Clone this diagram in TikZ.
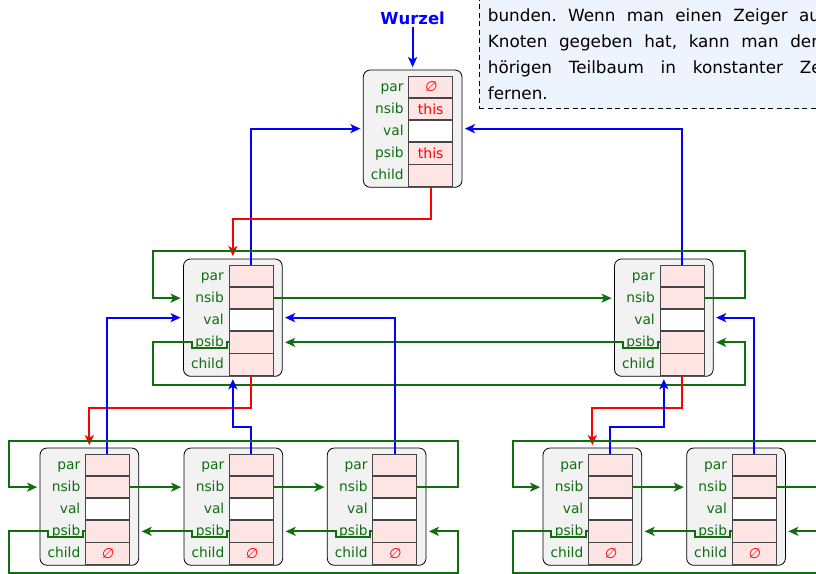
\documentclass[tikz,border=0pt]{standalone}
\usepackage{fontspec}
\setmainfont{DejaVu Sans}
\newfontfamily\emptysymfont[FakeSlant=0.15]{DejaVu Sans}
\usetikzlibrary{arrows.meta,calc}
\definecolor{lgreen}{RGB}{16,110,16}
\definecolor{cellpink}{RGB}{255,228,228}
\definecolor{boxgray}{RGB}{242,242,242}
\definecolor{notebg}{RGB}{237,244,253}
\definecolor{cellline}{RGB}{70,70,70}
\newcommand\notefont{\fontsize{16.8}{20}\selectfont}
\newcommand\nilsym{{\emptysymfont ∅}}
\tikzset{
  x=1pt, y=-1pt,
  gbox/.style={draw=black, line width=0.8pt, fill=boxgray, rounded corners=7pt,
    minimum width=98.7pt, minimum height=117.3pt, inner sep=0pt},
  cellp/.style={draw=cellline, line width=0.9pt, fill=cellpink, minimum width=44pt,
    minimum height=21.2pt, inner sep=0pt, text=red, font=\fontsize{14}{16}\selectfont},
  cellw/.style={cellp, fill=white},
  lab/.style={text=lgreen, font=\fontsize{13.8}{16}\selectfont, inner sep=0pt, anchor=base east},
  con/.style={line width=2pt, -{Stealth[length=10pt,width=9pt,inset=2.5pt]}, shorten >=2.5pt},
  bl/.style={con, blue}, rd/.style={con, red}, gr/.style={con, lgreen},
  notebox/.style={draw=black, line width=0.8pt, dash pattern=on 5pt off 3.5pt, fill=notebg,
    minimum width=360pt, minimum height=130pt, inner sep=0pt},
  notetxt/.style={font=\notefont, inner sep=0pt, anchor=base west},
  wlabel/.style={text=blue, font=\fontsize{16.5}{18}\selectfont\bfseries, inner sep=3pt, anchor=base},
}
\newcommand\fheap[7]{%
  \node[gbox] (#1) at (#2+4.35,#3+52.65) {};
  \node[cellp, anchor=north west] (#1-par) at (#2,#3) {#4};
  \node[cellp, anchor=north] (#1-nsib) at (#1-par.south) {#5};
  \node[cellw, anchor=north] (#1-val) at (#1-nsib.south) {};
  \node[cellp, anchor=north] (#1-psib) at (#1-val.south) {#6};
  \node[cellp, anchor=north] (#1-child) at (#1-psib.south) {#7};
  \node[lab] (#1-lpar) at ($(#1-par.west)+(-4.5,4.5)$) {par};
  \node[lab] (#1-lnsib) at ($(#1-nsib.west)+(-4.5,4.5)$) {nsib};
  \node[lab] (#1-lval) at ($(#1-val.west)+(-4.5,4.5)$) {val};
  \node[lab] (#1-lpsib) at ($(#1-psib.west)+(-4.5,4.5)$) {psib};
  \node[lab] (#1-lchild) at ($(#1-child.west)+(-4.5,4.5)$) {child};
}
\frenchspacing
\begin{document}
\begin{tikzpicture}
\useasboundingbox (0,0) rectangle (816,573);
\clip (0,0) rectangle (816,573);
% note box
\node[notebox, anchor=south west] (note) at (479,109) {};
\node[notetxt] (t1) at (487.7,21.7) {\makebox[338pt][s]{bunden. Wenn man einen Zeiger auf}};
\node[notetxt] (t2) at (487.7,47.5) {\makebox[334pt][s]{Knoten gegeben hat, kann man den}};
\node[notetxt] (t3) at (487.7,73.3) {\makebox[345pt][s]{hörigen Teilbaum in konstanter Zeit}};
\node[notetxt] (t4) at (487.7,99.1) {fernen.};
\node[wlabel] (wurzel) at (412.6,24) {Wurzel};
% heap nodes
\fheap{r}{408.3}{76}{\nilsym}{this}{this}{}
\fheap{m1}{228.5}{265}{}{}{}{}
\fheap{m2}{659.5}{265}{}{}{}{}
\fheap{b1}{85}{454}{}{}{}{\nilsym}
\fheap{b2}{229}{454}{}{}{}{\nilsym}
\fheap{b3}{372.3}{454}{}{}{}{\nilsym}
\fheap{b4}{588}{454}{}{}{}{\nilsym}
\fheap{b5}{731.7}{454}{}{}{}{\nilsym}
% root level
\draw[bl] (wurzel.south) -- (wurzel.south |- r.north);
\draw[bl] (m1-par.north) |- (r.west);
\draw[bl] (m2-par.north) |- (r.east);
\draw[rd] (r-child.south) -- ++(0,32) -| (m1.north);
% middle level
\draw[gr] (m1-nsib.east) -- (m1-nsib.east -| m2.west);
\draw[gr] (m2-nsib.east) -- ++(41,0) |- (153.3,250.7) |- (m1.west |- m1-nsib.west);
\draw[gr] (m2-psib.west) -- ++(-2,0) -- ++(0,5.5) -- ++(-34.6,0) -- ++(0,-5.5) -- (m1.east |- m2-psib.west);
\draw[gr] (m1-psib.west) -- ++(-2,0) -- ++(0,5.5) -- ++(-34.6,0) -- ++(0,-5.5) -| (153.3,384.7) -| ($(m2-psib.east)+(41,0)$) -- (m2.east |- m1-psib.west);
% bottom level: parents and children
\draw[rd] (m1-child.south) -- ++(0,32.3) -| (b1.north);
\draw[rd] (m2-child.south) -- ++(0,32) -| (b4.north);
\draw[bl] (b1-par.north) |- (m1.west);
\draw[bl] (b2-par.north) -- ++(0,-27.3) -| (m1.south);
\draw[bl] (b3-par.north) |- (m1.east);
\draw[bl] (b4-par.north) -- ++(0,-27.3) -| (m2.south);
\draw[bl] (b5-par.north) |- (m2.east);
% bottom level: sibling lists
\draw[gr] (b1-nsib.east) -- (b1-nsib.east -| b2.west);
\draw[gr] (b2-nsib.east) -- (b2-nsib.east -| b3.west);
\draw[gr] (b3-nsib.east) -- ++(40.4,0) |- (9.3,440.7) |- (b1.west |- b1-nsib.west);
\draw[gr] (b4-nsib.east) -- (b4-nsib.east -| b5.west);
\draw[gr] (b5-nsib.east) -- ++(40.4,0) |- (513.3,440.7) |- (b4.west |- b4-nsib.west);
\draw[gr] (b2-psib.west) -- ++(-2,0) -- ++(0,5.5) -- ++(-34.6,0) -- ++(0,-5.5) -- (b1.east |- b2-psib.west);
\draw[gr] (b3-psib.west) -- ++(-2,0) -- ++(0,5.5) -- ++(-34.6,0) -- ++(0,-5.5) -- (b2.east |- b3-psib.west);
\draw[gr] (b1-psib.west) -- ++(-2,0) -- ++(0,5.5) -- ++(-34.6,0) -- ++(0,-5.5) -| (9.3,572.5) -| ($(b3-psib.east)+(40.4,0)$) -- (b3.east |- b1-psib.west);
\draw[gr] (b5-psib.west) -- ++(-2,0) -- ++(0,5.5) -- ++(-34.6,0) -- ++(0,-5.5) -- (b4.east |- b5-psib.west);
\draw[gr] (b4-psib.west) -- ++(-2,0) -- ++(0,5.5) -- ++(-34.6,0) -- ++(0,-5.5) -| (513.3,572.5) -| ($(b5-psib.east)+(40.4,0)$) -- (b5.east |- b4-psib.west);
\end{tikzpicture}
\end{document}
